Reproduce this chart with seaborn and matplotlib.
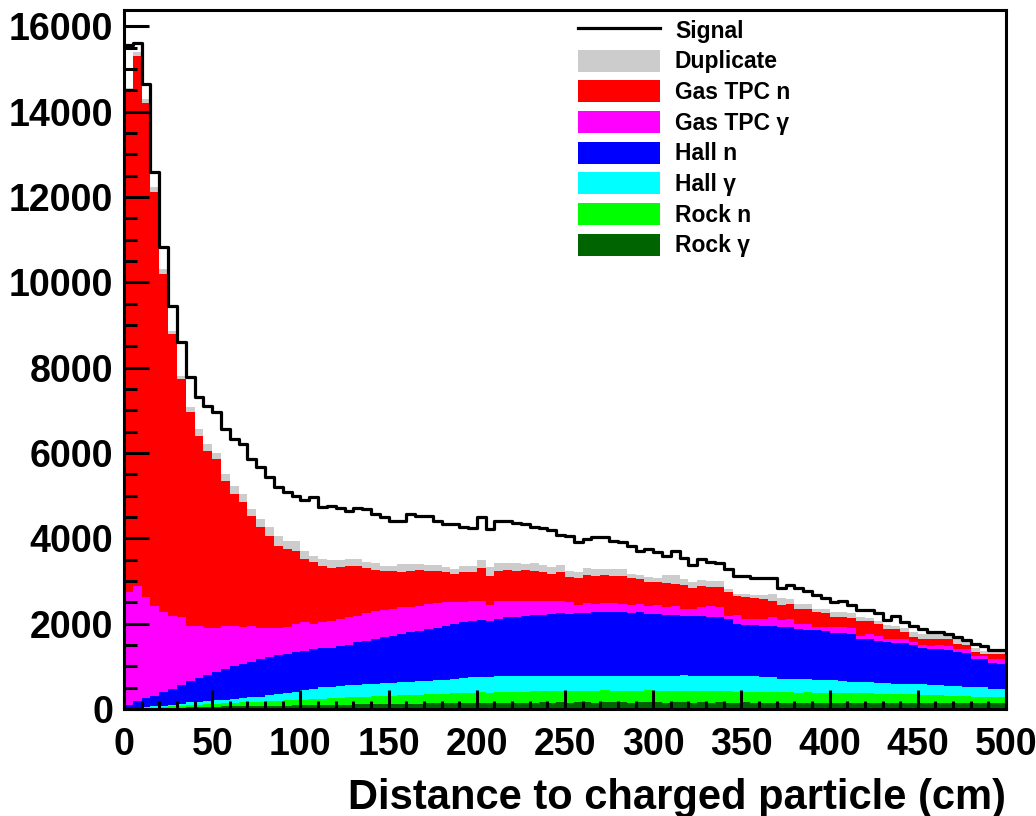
import numpy as np
import pandas as pd
import matplotlib
matplotlib.use("Agg")
import matplotlib.pyplot as plt
import seaborn as sns
from matplotlib.patches import Patch
from matplotlib.lines import Line2D
from matplotlib.ticker import MultipleLocator
from matplotlib.font_manager import FontProperties

# ---------------- data (counts per 5 cm bin, 0-500 cm) ----------------
bin_width = 5
x_range = (0, 500)

signal = [15550, 15600, 14640, 12580, 10830, 9440, 8600, 7780, 7310, 7100,
          6960, 6560, 6330, 6210, 5860, 5670, 5440, 5200, 5080, 4990,
          4900, 4970, 4730, 4760, 4710, 4650, 4720, 4690, 4570, 4490,
          4410, 4410, 4570, 4530, 4530, 4410, 4340, 4330, 4260, 4250,
          4500, 4220, 4410, 4400, 4350, 4330, 4260, 4250, 4190, 4080,
          4060, 3910, 3990, 4020, 4020, 3940, 3920, 3830, 3710, 3750,
          3670, 3590, 3710, 3550, 3380, 3510, 3440, 3410, 3290, 3120,
          3120, 3070, 3060, 3060, 2830, 2900, 2830, 2770, 2670, 2590,
          2510, 2540, 2440, 2330, 2330, 2240, 2090, 2170, 2030, 1940,
          1870, 1810, 1810, 1760, 1680, 1620, 1520, 1480, 1390, 1390]

duplicate = [50, 100, 100, 120, 100, 70, 70, 120, 160, 160,
             150, 150, 190, 200, 160, 190, 200, 230, 190, 230,
             190, 150, 160, 180, 170, 170, 160, 150, 160, 130,
             120, 170, 160, 150, 140, 130, 120, 110, 150, 160,
             190, 200, 170, 160, 170, 150, 180, 170, 160, 170,
             140, 120, 180, 170, 160, 160, 170, 100, 90, 120,
             110, 180, 190, 150, 140, 140, 150, 150, 80, 60,
             80, 70, 90, 150, 170, 120, 110, 120, 80, 80,
             110, 120, 120, 80, 70, 70, 80, 80, 100, 120,
             110, 120, 120, 110, 110, 110, 110, 70, 70, 80]

gas_tpc_n = [11750, 12410, 11580, 9680, 7930, 6600, 5580, 5000, 4450, 4160,
             3970, 3400, 3090, 2920, 2580, 2360, 2170, 1940, 1820, 1720,
             1490, 1450, 1330, 1240, 1230, 1190, 1170, 1050, 950, 910,
             900, 840, 840, 830, 780, 760, 700, 670, 690, 680,
             760, 680, 700, 730, 700, 730, 690, 670, 640, 660,
             600, 650, 650, 650, 640, 640, 650, 620, 590, 560,
             540, 560, 520, 550, 490, 480, 450, 460, 550, 440,
             500, 490, 470, 390, 350, 350, 350, 340, 350, 340,
             250, 240, 240, 350, 320, 300, 240, 230, 160, 120,
             160, 160, 150, 150, 120, 90, 80, 50, 120, 110]

gas_tpc_gamma = [2650, 2710, 2370, 2110, 1870, 1710, 1590, 1300, 1230, 1100,
                 1030, 1020, 950, 870, 850, 740, 670, 630, 630, 660,
                 670, 590, 600, 620, 620, 640, 630, 650, 660, 640,
                 620, 630, 600, 590, 580, 580, 550, 510, 480, 460,
                 460, 380, 420, 380, 380, 340, 340, 320, 290, 300,
                 280, 180, 220, 200, 220, 200, 200, 180, 180, 190,
                 210, 190, 220, 160, 170, 220, 250, 240, 90, 200,
                 150, 150, 160, 200, 160, 200, 120, 150, 80, 90,
                 130, 140, 150, 80, 110, 100, 80, 90, 90, 70,
                 70, 80, 90, 90, 80, 80, 70, 80, 90, 120]

hall_n = [80, 145, 200, 250, 320, 375, 435, 490, 545, 600,
          655, 710, 765, 795, 830, 870, 895, 905, 915, 920,
          925, 930, 925, 920, 945, 955, 990, 1015, 1045, 1075,
          1105, 1120, 1160, 1185, 1210, 1230, 1260, 1285, 1305, 1320,
          1320, 1315, 1350, 1375, 1385, 1410, 1415, 1435, 1455, 1460,
          1445, 1475, 1475, 1490, 1485, 1505, 1485, 1480, 1500, 1445,
          1440, 1440, 1425, 1400, 1395, 1400, 1385, 1370, 1325, 1225,
          1205, 1190, 1200, 1205, 1215, 1200, 1180, 1155, 1170, 1160,
          1110, 1110, 1110, 1005, 1010, 980, 955, 955, 955, 905,
          845, 840, 840, 845, 790, 795, 675, 665, 605, 580]

hall_gamma = [15, 20, 25, 30, 35, 45, 55, 70, 75, 80,
              80, 85, 95, 100, 105, 120, 140, 160, 185, 200,
              215, 240, 265, 270, 275, 285, 290, 300, 300, 305,
              305, 310, 310, 310, 315, 320, 330, 340, 350, 360,
              365, 360, 370, 375, 370, 365, 370, 360, 360, 355,
              360, 350, 355, 360, 350, 345, 355, 350, 345, 350,
              355, 345, 355, 360, 350, 360, 355, 365, 360, 365,
              355, 360, 350, 345, 310, 310, 315, 300, 290, 285,
              290, 280, 275, 270, 265, 260, 255, 250, 250, 245,
              245, 240, 240, 235, 230, 225, 215, 220, 200, 200]

rock_n = [5, 10, 15, 20, 25, 35, 40, 50, 55, 60,
          70, 75, 80, 90, 95, 100, 110, 115, 120, 125,
          130, 140, 145, 150, 160, 165, 170, 175, 180, 185,
          190, 200, 205, 210, 215, 220, 225, 230, 235, 240,
          250, 245, 255, 250, 260, 255, 265, 260, 265, 270,
          265, 270, 275, 270, 280, 270, 275, 280, 270, 275,
          270, 275, 265, 270, 275, 265, 270, 260, 265, 260,
          255, 260, 250, 255, 245, 250, 240, 245, 235, 240,
          230, 235, 225, 220, 225, 215, 210, 205, 200, 200,
          190, 185, 180, 175, 170, 165, 160, 150, 145, 140]

rock_gamma = [0, 5, 10, 15, 20, 25, 30, 40, 45, 50,
              55, 60, 60, 65, 70, 70, 75, 80, 80, 85,
              90, 90, 95, 100, 100, 105, 110, 110, 115, 115,
              120, 120, 125, 125, 130, 130, 135, 135, 140, 140,
              145, 140, 145, 150, 145, 150, 150, 155, 150, 155,
              150, 155, 155, 150, 155, 160, 155, 150, 155, 160,
              155, 150, 155, 160, 150, 155, 150, 155, 150, 150,
              155, 150, 150, 145, 150, 150, 145, 150, 145, 145,
              150, 145, 140, 145, 140, 145, 140, 140, 145, 140,
              140, 135, 140, 135, 140, 135, 130, 135, 130, 130]

source_names = ["Duplicate", "Gas TPC n", "Gas TPC \u03b3", "Hall n",
                "Hall \u03b3", "Rock n", "Rock \u03b3"]
source_values = [duplicate, gas_tpc_n, gas_tpc_gamma, hall_n,
                 hall_gamma, rock_n, rock_gamma]
source_colors = ["#cccccc", "#ff0000", "#ff00ff", "#0000ff",
                 "#00ffff", "#00ff00", "#006400"]

# ---------------- figure ----------------
plt.rcParams["font.family"] = ["Liberation Sans", "DejaVu Sans"]
plt.rcParams["font.weight"] = "bold"

n_bins = len(signal)
centers = x_range[0] + bin_width * (np.arange(n_bins) + 0.5)
df = pd.DataFrame({
    "distance": np.tile(centers, len(source_names)),
    "counts": np.concatenate([np.asarray(v, float) for v in source_values]),
    "source": np.repeat(source_names, n_bins),
})
sig_df = pd.DataFrame({"distance": centers,
                       "counts": np.asarray(signal, float)})

W, H = 1036, 816
fig = plt.figure(figsize=(W / 100, H / 100), dpi=100)
ax = fig.add_axes([124 / W, 1 - 709 / H, 882 / W, 699 / H])

sns.histplot(data=df, x="distance", weights="counts", hue="source",
             hue_order=source_names, palette=source_colors,
             multiple="stack", binwidth=bin_width, binrange=x_range,
             element="step", fill=True, alpha=1, linewidth=0,
             legend=False, ax=ax)

sns.histplot(data=sig_df, x="distance", weights="counts",
             binwidth=bin_width, binrange=x_range,
             element="step", fill=False, color="black", linewidth=2.3,
             ax=ax)

ax.set_xlim(0, 500)
ax.set_ylim(0, 16380)
ax.xaxis.set_major_locator(MultipleLocator(50))
ax.xaxis.set_minor_locator(MultipleLocator(10))
ax.yaxis.set_major_locator(MultipleLocator(2000))
ax.yaxis.set_minor_locator(MultipleLocator(500))
ax.tick_params(which="both", direction="in", top=False, right=False,
               width=2.2, colors="black")
ax.tick_params(axis="x", which="major", length=14, pad=13, labelsize=27)
ax.tick_params(axis="x", which="minor", length=6)
ax.tick_params(axis="y", which="major", length=18, pad=8, labelsize=27)
ax.tick_params(axis="y", which="minor", length=9)
for lab in ax.get_xticklabels() + ax.get_yticklabels():
    lab.set_fontweight("bold")
for sp in ax.spines.values():
    sp.set_linewidth(2.2)
    sp.set_color("black")

ax.set_ylabel("")
ax.set_xlabel("Distance to charged particle (cm)", fontsize=30,
              fontweight="bold", loc="right", labelpad=10.5)

handles = [Line2D([0], [0], color="black", lw=2.3)] + \
          [Patch(facecolor=c, edgecolor="none") for c in source_colors]
labels = ["Signal"] + source_names
fig.legend(handles, labels, loc="upper left",
           bbox_to_anchor=(578 / W, 1 - 19 / H), frameon=False,
           prop=FontProperties(family=["Liberation Sans", "DejaVu Sans"],
                               weight="bold", size=16.5),
           handlelength=3.58, handleheight=1.1, labelspacing=0.3,
           handletextpad=0.65, borderpad=0, borderaxespad=0)

fig.savefig("out.png", dpi=100)
